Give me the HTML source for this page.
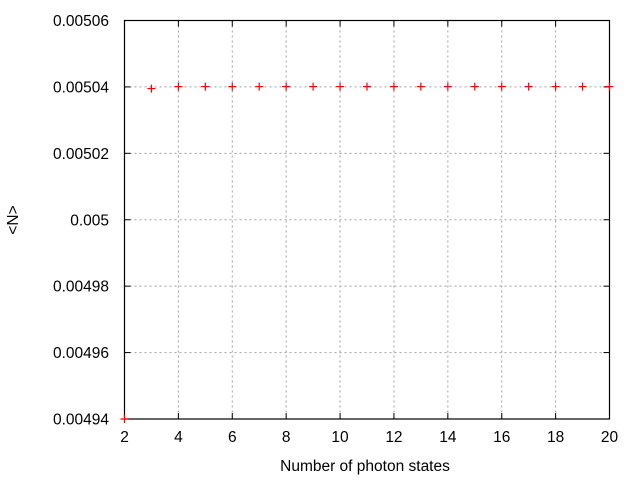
<!DOCTYPE html>
<html><head><meta charset="utf-8"><style>
body{margin:0;background:#fff}
text{font-family:"Liberation Sans",sans-serif;font-size:15.5px;fill:#000}
</style></head><body>
<svg id="c" width="640" height="480" viewBox="0 0 640 480">
<g id="grid"></g>
<g id="ticks"></g>
<rect x="124.5" y="20.5" width="485" height="398.5" fill="none" stroke="#000" stroke-width="1.2"/>
<g id="pts"></g>
<text x="365" y="471" text-anchor="middle">Number of photon states</text>
<text transform="translate(18,220) rotate(-90)" text-anchor="middle">&lt;N&gt;</text>
</svg>
<script>
const xTicks=[2,4,6,8,10,12,14,16,18,20];
const yTicks=[0.00494,0.00496,0.00498,0.005,0.00502,0.00504,0.00506];
const yTickLabels=["0.00494","0.00496","0.00498","0.005","0.00502","0.00504","0.00506"];
const xs=[2,3,4,5,6,7,8,9,10,11,12,13,14,15,16,17,18,19,20];
const ys=[0.00494,0.0050395,0.0050401,0.0050401,0.0050401,0.0050401,0.0050401,0.0050401,0.0050401,0.0050401,0.0050401,0.0050401,0.0050401,0.0050401,0.0050401,0.0050401,0.0050401,0.0050401,0.0050401];
const L=124.5,R=609.5,T=20.5,B=419;
const X=v=>L+(v-2)/18*(R-L);
const Y=v=>B-(v-0.00494)/0.00012*(B-T);
const NS="http://www.w3.org/2000/svg";
function mk(tag,attrs,parent){const e=document.createElementNS(NS,tag);for(const k in attrs)e.setAttribute(k,attrs[k]);parent.appendChild(e);return e;}
const g=document.getElementById('grid'),t=document.getElementById('ticks'),p=document.getElementById('pts');
xTicks.forEach(v=>{const x=X(v);
 if(v>2&&v<20){const l=mk('line',{x1:x,x2:x,y1:T,y2:B,stroke:'#a0a0a0','stroke-dasharray':'2,3'},g);
 
 }
 mk('line',{x1:x,x2:x,y1:B,y2:B-6,stroke:'#000'},t);
 mk('line',{x1:x,x2:x,y1:T,y2:T+6,stroke:'#000'},t);
 const tx=mk('text',{x:x,y:B+23,'text-anchor':'middle'},t);tx.textContent=v;
 
 
});
yTicks.forEach((v,i)=>{const y=Y(v);
 if(i>0&&i<yTicks.length-1){const l=mk('line',{x1:L,x2:R,y1:y,y2:y,stroke:'#a0a0a0','stroke-dasharray':'2,3'},g);
 
 }
 mk('line',{x1:L,x2:L+6,y1:y,y2:y,stroke:'#000'},t);
 mk('line',{x1:R,x2:R-6,y1:y,y2:y,stroke:'#000'},t);
 const tx=mk('text',{x:109,y:y+5.5,'text-anchor':'end'},t);tx.textContent=yTickLabels[i];
 
 
});
xs.forEach((v,i)=>{const x=X(v),y=Y(ys[i]);
 const m=mk('path',{d:`M${x-4},${y}H${x+4}M${x},${y-4}V${y+4}`,stroke:'#f00','stroke-width':1.2},p);
 
 
});
</script>
</body></html>
